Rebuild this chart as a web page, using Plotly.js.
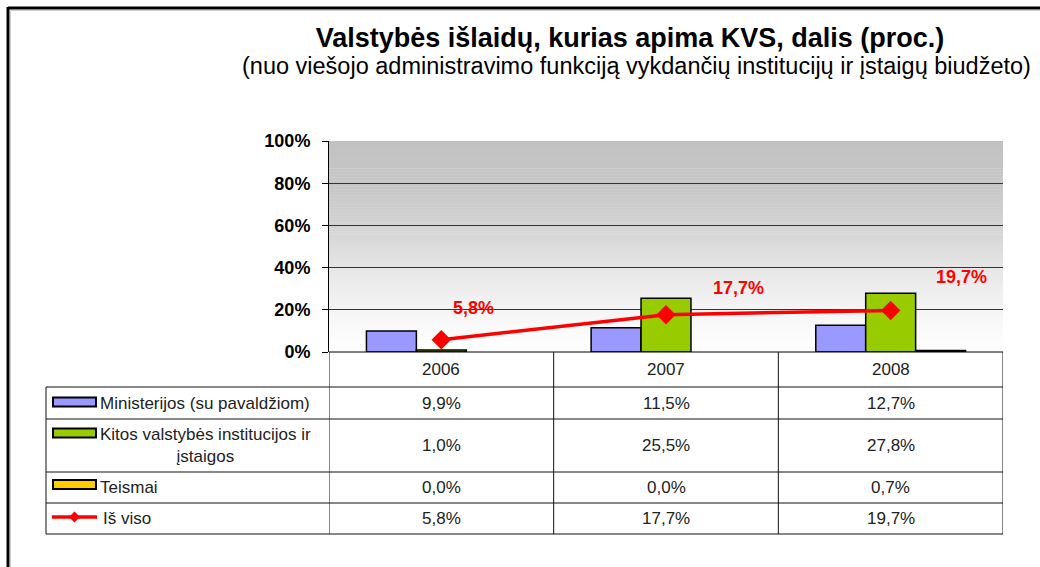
<!DOCTYPE html>
<html><head><meta charset="utf-8">
<script src="https://cdn.plot.ly/plotly-3.0.1.min.js"></script>
<style>html,body{margin:0;padding:0;background:#fff;} #chart{width:1040px;height:567px;}</style>
</head><body><div id="chart"></div>
<script>
// ---- data ----
const years = ['2006', '2007', '2008'];
const seriesNames = ['Ministerijos (su pavaldžiom)', 'Kitos valstybės institucijos ir<br>įstaigos', 'Teismai', 'Iš viso'];
const ministerijos = [9.9, 11.5, 12.7];
const kitos = [1.0, 25.5, 27.8];
const teismai = [0.0, 0.0, 0.7];
const isViso = [5.8, 17.7, 19.7];
const yTicks = [0, 20, 40, 60, 80, 100];
const titleText = 'Valstybės išlaidų, kurias apima KVS, dalis (proc.)';
const subtitleText = '(nuo viešojo administravimo funkciją vykdančių institucijų ir įstaigų biudžeto)';

// ---- geometry / style ----
const W = 1040, H = 567;
const L = 329, R = 1003, T = 141, B = 352;
const px = x => (x - L) / (R - L);
const py = y => (B - y) / (B - T);
const FONT = 'Arial, "Liberation Sans", sans-serif';
const fmt = v => v.toFixed(1).replace('.', ',') + '%';
const barColors = ['#9999ff', '#99cc00', '#ffcc00'];
const lineColor = '#ff0000';
const barSeries = [ministerijos, kitos, teismai];
const TABLE_FONT = {family: FONT, size: 17, color: '#222'};

const traces = barSeries.map((vals, i) => ({
  type: 'bar', x: years, y: vals, name: seriesNames[i],
  marker: {color: barColors[i], line: {color: '#000', width: vals.map(v => v > 0 ? 1.5 : 0)}},
  hoverinfo: 'skip', showlegend: false
}));
traces.push({
  type: 'scatter', mode: 'lines+markers', x: years, y: isViso, name: seriesNames[3],
  line: {color: lineColor, width: 3.5},
  marker: {symbol: 'diamond', size: 15, color: lineColor},
  hoverinfo: 'skip', showlegend: false
});

const shapes = [];
// gradient background of the plot area
const stops = [[0, 194], [0.2, 198], [0.4, 210], [0.6, 230], [0.8, 245], [1, 255]];
const N = 70;
for (let k = 0; k < N; k++) {
  const f = (k + 0.5) / N; // fraction from top
  let c = 255;
  for (let s = 0; s < stops.length - 1; s++) {
    if (f >= stops[s][0] && f <= stops[s + 1][0]) {
      const t = (f - stops[s][0]) / (stops[s + 1][0] - stops[s][0]);
      c = Math.round(stops[s][1] + t * (stops[s + 1][1] - stops[s][1]));
    }
  }
  shapes.push({type: 'rect', xref: 'x domain', yref: 'y domain', layer: 'below',
    x0: 0, x1: 1, y0: 1 - (k + 1) / N - 0.002, y1: 1 - k / N,
    fillcolor: `rgb(${c},${c},${c})`, line: {width: 0}});
}
// outer frame
shapes.push({type: 'line', xref: 'paper', yref: 'paper', x0: px(8), x1: px(W + 5), y0: py(8), y1: py(8), line: {color: '#000', width: 3}});
shapes.push({type: 'line', xref: 'paper', yref: 'paper', x0: px(8), x1: px(8), y0: py(7), y1: py(H + 5), line: {color: '#000', width: 3}});
shapes.push({type: 'line', xref: 'paper', yref: 'paper', x0: px(10.5), x1: px(W + 5), y0: py(10.5), y1: py(10.5), line: {color: '#d0d0d0', width: 1}});
shapes.push({type: 'line', xref: 'paper', yref: 'paper', x0: px(10.5), x1: px(10.5), y0: py(10.5), y1: py(H + 5), line: {color: '#d0d0d0', width: 1}});

// data table
const rowLines = [387, 419, 472, 503, 534];
const tbl = {color: '#111', width: 1};
shapes.push({type: 'line', xref: 'paper', yref: 'paper', x0: 0, x1: 1, y0: 0, y1: 0, line: {color: '#000', width: 1}});
rowLines.forEach(y => shapes.push({type: 'line', xref: 'paper', yref: 'paper', x0: px(46), x1: 1, y0: py(y), y1: py(y), line: tbl}));
shapes.push({type: 'line', xref: 'paper', yref: 'paper', x0: px(46), x1: px(46), y0: py(387), y1: py(534), line: tbl});
[-0.5, 0.5, 1.5, 2.5].forEach(x => shapes.push({type: 'line', xref: 'x', yref: 'paper', x0: x, x1: x, y0: 0, y1: py(534), line: tbl}));

const annotations = [];
const rowCenters = [403, 445.5, 487.5, 518.5];
const keyCenters = [402, 433, 484.5, 517];
const tableValues = [ministerijos, kitos, teismai, isViso];
years.forEach((y, c) => annotations.push({xref: 'x', yref: 'paper', x: c, y: py(369.5), text: y, showarrow: false,
  xanchor: 'center', yanchor: 'middle', font: TABLE_FONT}));
tableValues.forEach((vals, r) => {
  vals.forEach((v, c) => annotations.push({xref: 'x', yref: 'paper', x: c, y: py(rowCenters[r]), text: fmt(v),
    xanchor: 'center', yanchor: 'middle', showarrow: false, font: TABLE_FONT}));
  annotations.push({xref: 'paper', yref: 'paper', x: px(r === 3 ? 101 : 98), y: py(rowCenters[r]), xanchor: 'left', yanchor: 'middle',
    text: seriesNames[r], align: 'center', showarrow: false, font: TABLE_FONT});
  if (r < 3) {
    shapes.push({type: 'rect', xref: 'paper', yref: 'paper', x0: px(53), x1: px(96), y0: py(keyCenters[r] - 4.5), y1: py(keyCenters[r] + 4.5),
      fillcolor: barColors[r], line: {color: '#000', width: 2}});
  } else {
    const ky = keyCenters[r];
    shapes.push({type: 'line', xref: 'paper', yref: 'paper', x0: px(52), x1: px(97), y0: py(ky), y1: py(ky), line: {color: lineColor, width: 3.5}});
    const d = 5.5, cx = 74.5;
    shapes.push({type: 'path', xref: 'paper', yref: 'paper',
      path: `M${px(cx - d)},${py(ky)} L${px(cx)},${py(ky - d)} L${px(cx + d)},${py(ky)} L${px(cx)},${py(ky + d)} Z`,
      fillcolor: lineColor, line: {color: lineColor, width: 0}});
  }
});
// line value labels
const labelShiftX = [32, 72, 71], labelShiftY = [32, 27, 33];
isViso.forEach((v, i) => annotations.push({xref: 'x', yref: 'y', x: i, y: v, text: '<b>' + fmt(v) + '</b>',
  xshift: labelShiftX[i], yshift: labelShiftY[i], xanchor: 'center', yanchor: 'middle', showarrow: false,
  font: {family: FONT, size: 18, color: lineColor}}));
// subtitle
annotations.push({xref: 'paper', yref: 'paper', x: px(636), y: py(66), text: subtitleText, showarrow: false,
  xanchor: 'center', yanchor: 'middle', font: {family: FONT, size: 23.5, color: '#000'}});

const layout = {
  width: W, height: H,
  margin: {l: L, r: W - R, t: T, b: H - B, pad: 0},
  paper_bgcolor: '#fff', plot_bgcolor: '#fff',
  title: {text: '<b>' + titleText + '</b>', font: {family: FONT, size: 27, color: '#000'},
    xref: 'paper', x: px(630), xanchor: 'center', yref: 'container', y: 1 - 38 / H, yanchor: 'middle'},
  barmode: 'group', bargap: 1 / 3, bargroupgap: 0,
  xaxis: {type: 'category', range: [-0.5, 2.5], showticklabels: false, showgrid: false, zeroline: false, showline: false, fixedrange: true},
  yaxis: {range: [0, 100], tickvals: yTicks, ticktext: yTicks.map(v => v + '%'), ticks: 'outside', ticklen: 6, tickcolor: '#000',
    ticklabelstandoff: 8,
    showline: true, linecolor: '#000', linewidth: 1, showgrid: true, gridcolor: '#333', gridwidth: 1, zeroline: false,
    tickfont: {family: FONT, size: 18, color: '#000', weight: 'bold'}, fixedrange: true},
  shapes: shapes, annotations: annotations, showlegend: false
};
Plotly.newPlot('chart', traces, layout, {displayModeBar: false, staticPlot: true});
</script>
</body></html>
